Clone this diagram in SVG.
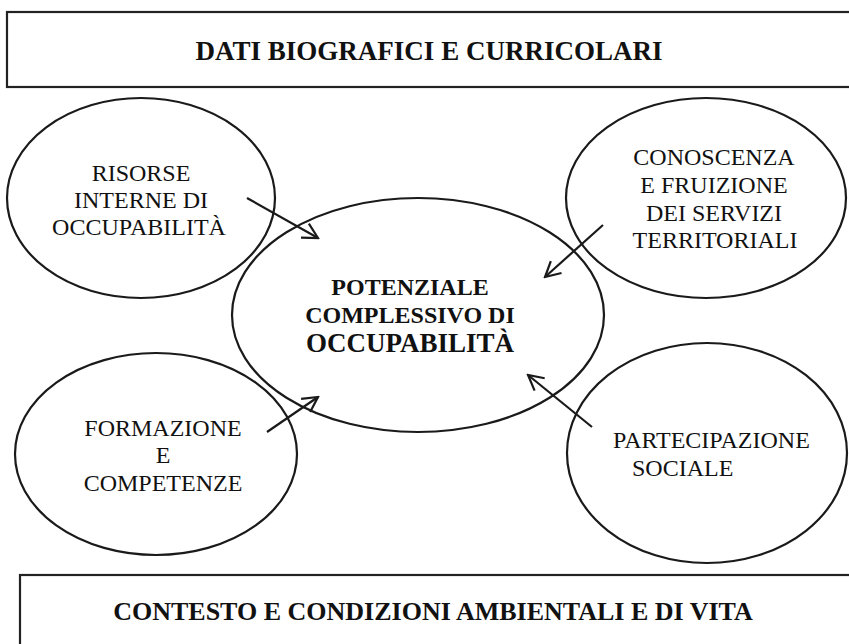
<svg xmlns="http://www.w3.org/2000/svg" width="849" height="644" viewBox="0 0 849 644">
<defs>
<style>
.box{fill:#fff;stroke:#222;stroke-width:2.2}
.ell{fill:none;stroke:#1a1a1a;stroke-width:2.2}
.t{font-family:"Liberation Serif","Times New Roman",serif;font-size:24px;fill:#111;text-anchor:middle}
.b{font-family:"Liberation Serif","Times New Roman",serif;font-weight:bold;fill:#111;text-anchor:middle}
.con{stroke:#1a1a1a;stroke-width:2.2;fill:none}
</style>
<marker id="ah" viewBox="-18 -10 20 20" refX="0" refY="0" markerWidth="20" markerHeight="20" markerUnits="userSpaceOnUse" orient="auto">
<path d="M-15,-8 L0,0 L-15,8" fill="none" stroke="#1a1a1a" stroke-width="2.2"/>
</marker>
</defs>
<rect width="849" height="644" fill="#fff"/>
<g id="top-box">
<rect class="box" x="7" y="12" width="900" height="75"/>
<text class="b" x="429" y="60" font-size="27">DATI BIOGRAFICI E CURRICOLARI</text>
</g>
<g id="bottom-box">
<rect class="box" x="20" y="575" width="900" height="100"/>
<text class="b" x="433" y="620" font-size="26">CONTESTO E CONDIZIONI AMBIENTALI E DI VITA</text>
</g>
<g id="center">
<ellipse class="ell" cx="418" cy="315" rx="186" ry="117"/>
<text class="b" x="410" y="295" font-size="24">POTENZIALE</text>
<text class="b" x="410" y="323" font-size="24">COMPLESSIVO DI</text>
<text class="b" x="410" y="352" font-size="27">OCCUPABILITÀ</text>
</g>
<g id="risorse">
<ellipse class="ell" cx="141" cy="198" rx="134" ry="100"/>
<text class="t" x="141" y="181">RISORSE</text>
<text class="t" x="141" y="208">INTERNE DI</text>
<text class="t" x="139" y="235">OCCUPABILITÀ</text>
</g>
<g id="conoscenza">
<ellipse class="ell" cx="706" cy="198" rx="140" ry="100"/>
<text class="t" x="714" y="165">CONOSCENZA</text>
<text class="t" x="714" y="193">E FRUIZIONE</text>
<text class="t" x="714" y="221">DEI SERVIZI</text>
<text class="t" x="715" y="248">TERRITORIALI</text>
</g>
<g id="formazione">
<ellipse class="ell" cx="156" cy="454" rx="141" ry="101"/>
<text class="t" x="163" y="436">FORMAZIONE</text>
<text class="t" x="163" y="463">E</text>
<text class="t" x="163" y="491">COMPETENZE</text>
</g>
<g id="partecipazione">
<ellipse class="ell" cx="707" cy="453" rx="140" ry="110"/>
<text class="t" x="613" y="448" style="text-anchor:start">PARTECIPAZIONE</text>
<text class="t" x="632" y="476" style="text-anchor:start">SOCIALE</text>
</g>
<g id="connectors">
<line class="con" x1="247" y1="198" x2="318" y2="238" marker-end="url(#ah)"/>
<line class="con" x1="603" y1="225" x2="545" y2="277" marker-end="url(#ah)"/>
<line class="con" x1="267" y1="432" x2="318" y2="397" marker-end="url(#ah)"/>
<line class="con" x1="592" y1="427" x2="528" y2="375" marker-end="url(#ah)"/>
</g>
</svg>
